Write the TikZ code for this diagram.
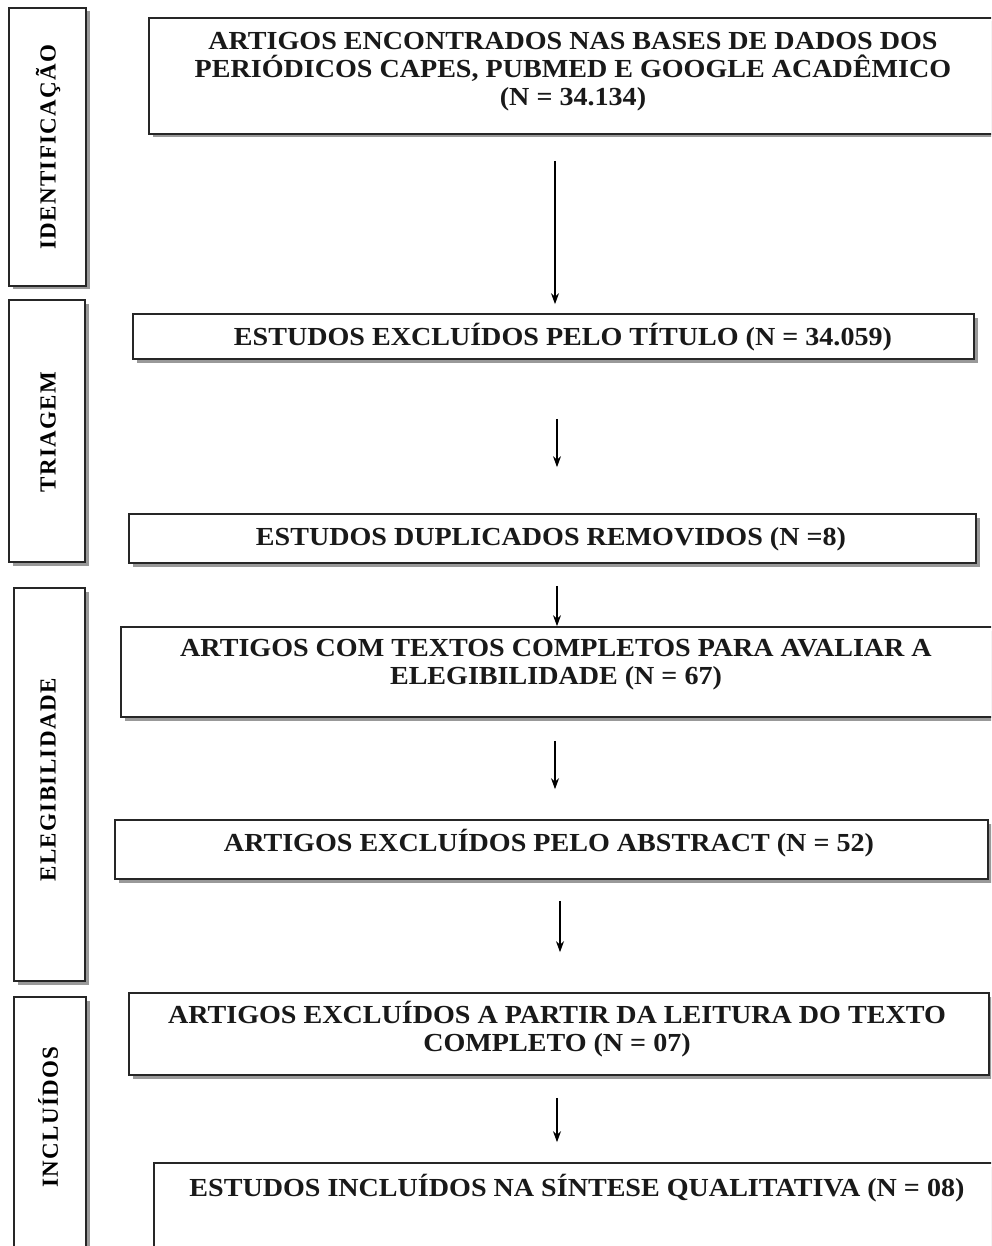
\documentclass[tikz,border=0pt]{standalone}
\usepackage{fontspec}
\setmainfont{Liberation Serif}
\newfontfamily\sidefont[LetterSpace=6]{Liberation Serif}
\newfontfamily\boxfont[FakeStretch=1.08]{Liberation Serif}
\usetikzlibrary{shadows,arrows.meta,calc}
\tikzset{
  box/.style={draw=black!85, line width=1.7pt, fill=white, rectangle, inner sep=0pt,
    drop shadow={shadow xshift=3.5pt, shadow yshift=-3.5pt, fill=black!40, opacity=1}},
  txt/.style={font=\boxfont\fontsize{26}{28}\selectfont\bfseries, align=center, inner sep=0pt, text=black!90},
  side/.style={font=\sidefont\fontsize{23}{23}\selectfont\bfseries, rotate=90, inner sep=0pt},
  arr/.style={line width=1.2pt, -{Stealth[length=11pt,width=8pt]}},
}
\begin{document}
\begin{tikzpicture}[x=1pt,y=-1pt]
\useasboundingbox (0,0) rectangle (991,1246);
\clip (0,0) rectangle (991,1246);
% side boxes
\node[box, minimum width=77pt, minimum height=278pt] (s1) at (47.5,147) {};
\node[box, minimum width=76pt, minimum height=262pt] (s2) at (47,431) {};
\node[box, minimum width=71pt, minimum height=393pt] (s3) at (49.5,784.5) {};
\node[box, minimum width=72pt, minimum height=273pt] (s4) at (50,1133.5) {};
\node[side] (l1) at (48,147) {IDENTIFICAÇÃO};
\node[side] (l2) at (48,432) {TRIAGEM};
\node[side] (l3) at (48,780) {ELEGIBILIDADE};
\node[side] (l4) at (48,1117) {INCLUÍDOS};
% main boxes
\node[box, minimum width=846pt, minimum height=116pt] (b1) at (572,76) {};
\node[box, minimum width=841pt, minimum height=45pt] (b2) at (553.5,336.5) {};
\node[box, minimum width=847pt, minimum height=49pt] (b3) at (552.5,538.5) {};
\node[box, minimum width=874pt, minimum height=90pt] (b4) at (558,672) {};
\node[box, minimum width=873pt, minimum height=59pt] (b5) at (551.5,849.5) {};
\node[box, minimum width=860pt, minimum height=82pt] (b6) at (559,1034) {};
\node[box, minimum width=841pt, minimum height=107pt] (b7) at (574.5,1216.5) {};
% texts
\node[txt] (t1) at (573,72) {ARTIGOS ENCONTRADOS NAS BASES DE DADOS DOS\\PERIÓDICOS CAPES, PUBMED E GOOGLE ACADÊMICO\\(N = 34.134)};
\node[txt] (t2) at (563,337) {ESTUDOS EXCLUÍDOS PELO TÍTULO (N = 34.059)};
\node[txt] (t3) at (551,539) {ESTUDOS DUPLICADOS REMOVIDOS (N =8)};
\node[txt] (t4) at (556,665) {ARTIGOS COM TEXTOS COMPLETOS PARA AVALIAR A\\ELEGIBILIDADE (N = 67)};
\node[txt] (t5) at (549,843) {ARTIGOS EXCLUÍDOS PELO ABSTRACT (N = 52)};
\node[txt] (t6) at (557,1029) {ARTIGOS EXCLUÍDOS A PARTIR DA LEITURA DO TEXTO\\COMPLETO (N = 07)};
\node[txt] (t7) at (577,1188) {ESTUDOS INCLUÍDOS NA SÍNTESE QUALITATIVA (N = 08)};
% arrow x positions
\coordinate (x1) at (555,0);
\coordinate (x2) at (557,0);
\coordinate (x3) at (557,0);
\coordinate (x4) at (555,0);
\coordinate (x5) at (560,0);
\coordinate (x6) at (557,0);
\draw[arr, shorten <=26pt, shorten >=9pt] (b1.south -| x1) -- (b2.north -| x1);
\draw[arr, shorten <=59pt, shorten >=46pt] (b2.south -| x2) -- (b3.north -| x2);
\draw[arr, shorten <=22pt, shorten >=0pt] (b3.south -| x3) -- (b4.north -| x3);
\draw[arr, shorten <=23pt, shorten >=30pt] (b4.south -| x4) -- (b5.north -| x4);
\draw[arr, shorten <=21pt, shorten >=40pt] (b5.south -| x5) -- (b6.north -| x5);
\draw[arr, shorten <=22pt, shorten >=20pt] (b6.south -| x6) -- (b7.north -| x6);
\end{tikzpicture}
\end{document}
